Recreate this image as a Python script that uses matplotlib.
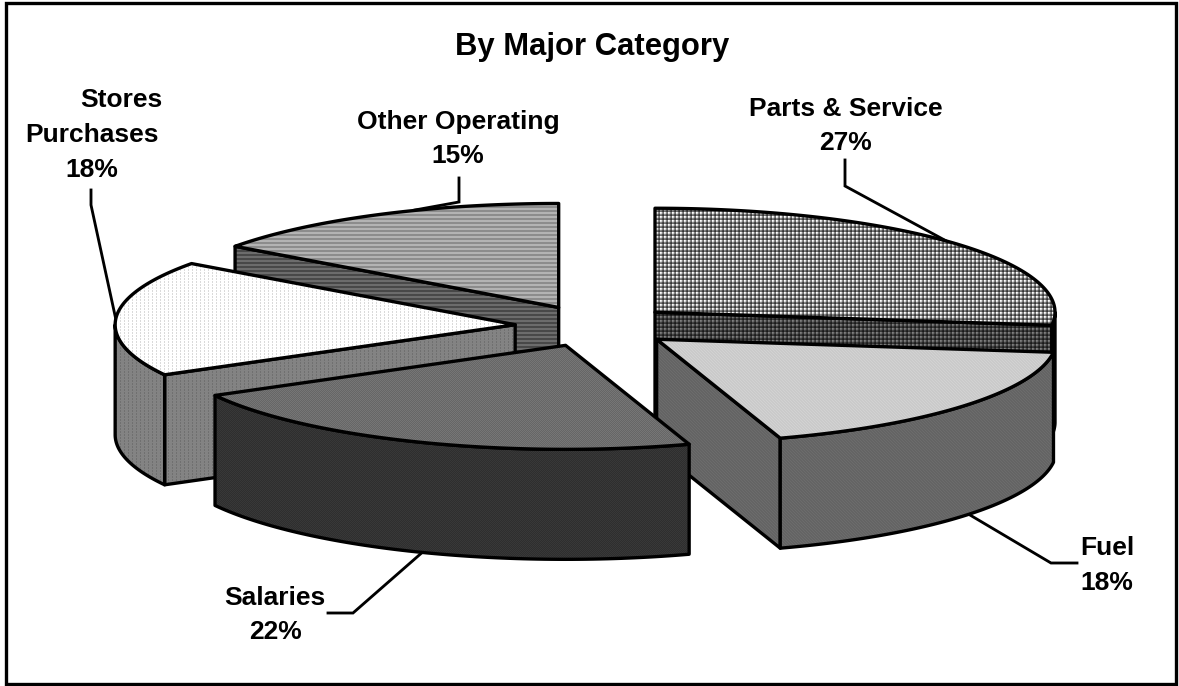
import numpy as np
import matplotlib
matplotlib.use('Agg')
import matplotlib.pyplot as plt
from matplotlib.patches import Polygon, Rectangle

plt.rcParams['font.family'] = ['Liberation Sans', 'DejaVu Sans']

# pie data, clockwise from north
names = ['Parts & Service', 'Fuel', 'Salaries', 'Stores Purchases', 'Other Operating']
percent = [27, 18, 22, 18, 15]

W, H = 1179, 686
LW = 2.4
# projected pie
cx, cy = 595, 326
a, b = 400, 104
depth = 110
explode = 0.2


def tile_grid(scale):
    p = np.array([1.0, 0.9, 0.55, 0.45])
    return np.outer(p, p) * 255 * scale


def tile_rows(hi, lo):
    return np.array([[hi], [hi], [lo], [lo]])


def tile_diag(hi, lo):
    return np.array([[hi, lo, lo], [lo, hi, lo], [lo, lo, hi]])


def tile_check(hi, lo):
    return np.array([[hi, lo], [lo, hi]])


def tile_dots(hi, lo):
    return np.array([[lo, hi, hi, hi], [hi, hi, hi, hi], [lo, hi, hi, hi]])


# top face, walls
styles = {
    'Parts & Service': (tile_grid(1.0), tile_grid(0.5)),
    'Fuel': (tile_diag(210, 202), tile_diag(108, 100)),
    'Salaries': (tile_check(118, 102), tile_check(56, 46)),
    'Stores Purchases': (tile_dots(255, 218), tile_dots(132, 112)),
    'Other Operating': (tile_rows(180, 140), tile_rows(108, 72)),
}
draw_order = ['Other Operating', 'Parts & Service', 'Stores Purchases', 'Fuel', 'Salaries']

# label lines: text, centre x, baseline y
label_lines = [
    ('Parts & Service', 846, 116), ('27%', 845, 150),
    ('Fuel', 1107, 555), ('18%', 1107, 590),
    ('Salaries', 275, 605), ('22%', 275, 639),
    ('Stores', 121, 107), ('Purchases', 92, 142), ('18%', 92, 177),
    ('Other Operating', 458, 129), ('15%', 458, 163),
]
leaders = [
    ([845, 845, 950], [160, 186, 243]),
    ([970, 1051, 1077], [515, 563, 563]),
    ([328, 353, 425], [613, 613, 550]),
    ([91, 91, 116], [190, 205, 320]),
    ([459, 459, 415], [178, 202, 210]),
]

fig = plt.figure(figsize=(W / 100, H / 100), dpi=100)
ax = fig.add_axes([0, 0, 1, 1])
ax.axis('off')

zo = [5]


def face(pts, tile):
    ny = H // tile.shape[0] + 1
    nx = W // tile.shape[1] + 1
    img = np.tile(tile, (ny, nx))[:H, :W]
    im = ax.imshow(img, cmap='gray', vmin=0, vmax=255, extent=(0, W, H, 0),
                   interpolation='nearest', aspect='auto', zorder=zo[0])
    clip = Polygon(pts, closed=True, transform=ax.transData, fc='none', ec='none')
    ax.add_patch(clip)
    im.set_clip_path(clip)
    ax.add_patch(Polygon(pts, closed=True, fc='none', ec='black', lw=LW,
                         joinstyle='round', zorder=zo[0] + 0.5))
    zo[0] += 1


def rim(x0, y0, t):
    t = np.radians(t)
    return np.column_stack((x0 + a * np.sin(t), y0 - b * np.cos(t)))


bounds = np.cumsum([0] + percent) * 3.6
slices = {}
for i, n in enumerate(names):
    slices[n] = (bounds[i], bounds[i + 1])

for n in draw_order:
    t1, t2 = slices[n]
    mid = np.radians((t1 + t2) / 2)
    x0 = cx + explode * a * np.sin(mid)
    y0 = cy - explode * b * np.cos(mid)
    top, wall = styles[n]
    down = np.array([0, depth])
    apex = np.array([[x0, y0]])
    # radial walls that face the viewer
    for t, seen in ((t1, np.sin(np.radians(t1)) < 0), (t2, np.sin(np.radians(t2)) > 0)):
        if seen:
            p = rim(x0, y0, [t])
            face(np.vstack((apex, p, p + down, apex + down)), wall)
    # front of the rim
    lo, hi = max(t1, 90), min(t2, 270)
    if hi > lo:
        arc = rim(x0, y0, np.linspace(lo, hi, 80))
        face(np.vstack((arc, (arc + down)[::-1])), wall)
    face(np.vstack((apex, rim(x0, y0, np.linspace(t1, t2, 120)))), top)

for xs, ys in leaders:
    ax.plot(xs, ys, color='black', lw=LW * 0.85, zorder=2, solid_joinstyle='miter')

for txt, x, y in label_lines:
    ax.text(x, y, txt, ha='center', va='baseline', fontsize=19, fontweight='bold', zorder=50)
ax.text(592, 55, 'By Major Category', ha='center', va='baseline', fontsize=22.3,
        fontweight='bold', zorder=50)

ax.add_patch(Rectangle((5.5, 3), 1170, 681, fc='none', ec='black', lw=LW, zorder=60))

ax.set_xlim(0, W)
ax.set_ylim(H, 0)
fig.savefig('out.png', dpi=100, facecolor='white')
